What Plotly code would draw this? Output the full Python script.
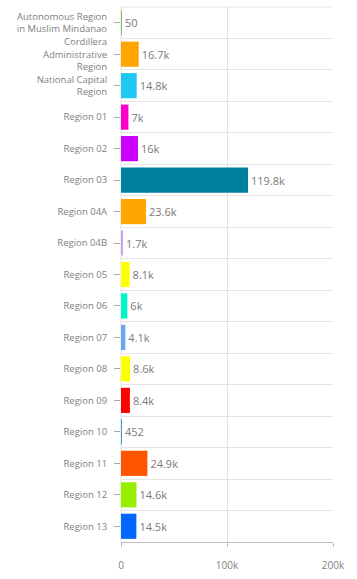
import plotly.graph_objects as go

regions = [
    "Autonomous Region<br>in Muslim Mindanao",
    "Cordillera<br>Administrative<br>Region",
    "National Capital<br>Region",
    "Region 01", "Region 02", "Region 03", "Region 04A", "Region 04B",
    "Region 05", "Region 06", "Region 07", "Region 08", "Region 09",
    "Region 10", "Region 11", "Region 12", "Region 13",
]
values = [50, 16700, 14800, 7000, 16000, 119800, 23600, 1700,
          8100, 6000, 4100, 8600, 8400, 452, 24900, 14600, 14500]
colors = ["#7cc44e", "#ffa500", "#1ec8f5", "#ff00cc", "#cc00ff", "#00809f",
          "#ffa500", "#c9a3e6", "#ffff00", "#00f5c8", "#6aa6ee", "#ffff00",
          "#ff0000", "#3a9cc8", "#ff5500", "#99ee00", "#0066ff"]
x_ticks = [0, 100000, 200000]
x_ticktext = ["0", "100k", "200k"]


def fmt(v):
    if v >= 1000:
        s = f"{v/1000:.1f}".rstrip("0").rstrip(".")
        return s + "k"
    return str(v)


labels = [fmt(v) for v in values]
pos = list(range(len(regions)))

fig = go.Figure(go.Bar(
    x=values, y=pos, orientation="h",
    marker=dict(color=colors, line=dict(width=0)),
    width=0.8,
    text=labels, textposition="outside", cliponaxis=False,
    textfont=dict(color="#7a7a7a", size=11, family="Open Sans"),
    hoverinfo="skip",
))

fig.update_layout(
    width=357, height=579,
    margin=dict(l=121, r=24, t=7, b=30),
    paper_bgcolor="white", plot_bgcolor="white",
    font=dict(family="Open Sans", size=11, color="#777777"),
    showlegend=False,
    bargap=0.2,
)
fig.update_xaxes(
    range=[0, 200000], tickvals=x_ticks, ticktext=x_ticktext,
    showgrid=True, gridcolor="#e4e4e4", gridwidth=1,
    showline=True, linecolor="#bdbdbd", linewidth=1,
    ticks="outside", ticklen=4, tickcolor="#bdbdbd",
    ticklabelstandoff=10, zeroline=False,
    tickfont=dict(family="Open Sans", size=10, color="#808080"),
)
fig.update_yaxes(
    range=[len(regions) - 0.5, -0.5],
    tickvals=pos, ticktext=regions,
    showgrid=False, zeroline=False,
    ticks="outside", ticklen=6, tickcolor="#aaaaaa",
    ticklabelstandoff=5,
    showline=False,
    tickfont=dict(family="Open Sans", size=9.5, color="#808080"),
    minor=dict(tick0=0.5, dtick=1, showgrid=True, gridcolor="#e4e4e4", gridwidth=1, ticks=""),
)
fig.add_shape(type="line", xref="paper", yref="paper", x0=0, x1=1, y0=1, y1=1,
              line=dict(color="#e4e4e4", width=1))
fig.add_shape(type="line", xref="paper", yref="paper", x0=0, x1=0, y0=0, y1=1,
              line=dict(color="#e0e0e0", width=1), layer="below")

fig.write_html("out.html")
